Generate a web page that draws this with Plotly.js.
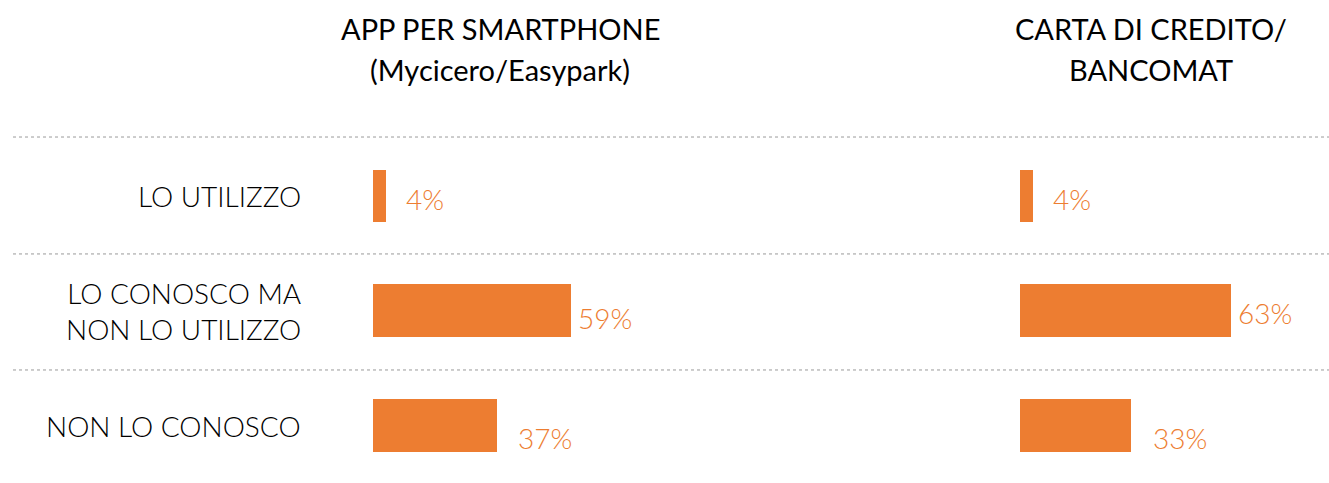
<!DOCTYPE html>
<html>
<head>
<meta charset="utf-8">
<script src="https://cdn.plot.ly/plotly-3.0.1.min.js"></script>
<style>html,body{margin:0;padding:0;background:#fff;}#chart{width:1329px;height:483px;}</style>
</head>
<body>
<div id="chart"></div>
<script>
const categories = ["LO UTILIZZO", "LO CONOSCO MA<br>NON LO UTILIZZO", "NON LO CONOSCO"];
const panelTitleLines = [["APP PER SMARTPHONE", "(Mycicero/Easypark)"], ["CARTA DI CREDITO/", "BANCOMAT"]];
const appValues = [4, 59, 37];
const cartaValues = [4, 63, 33];

const ORANGE = "#ED7D31";
const FONT = "Lato, 'Open Sans', sans-serif";
const W = 1329, H = 483;
const pos = categories.map((c, i) => i);

// label offsets (pixels) to mimic the original layout
const labelShift = [[18, 3], [5, 7], [19, 12]];
const labelShiftR = [[18, 3], [5, 2], [20, 12]];

function barTrace(vals, xa, ya) {
  return {
    type: "bar", orientation: "h", x: vals, y: pos,
    xaxis: xa, yaxis: ya, width: 0.46,
    marker: {color: ORANGE}, hoverinfo: "skip"
  };
}

const data = [barTrace(appValues, "x", "y"), barTrace(cartaValues, "x2", "y2")];

const annotations = [];
function addLabels(vals, xref, yref, shifts) {
  vals.forEach((v, i) => {
    annotations.push({
      x: v, y: i, xref: xref, yref: yref, text: v + "%", showarrow: false,
      xanchor: "left", yanchor: "middle", xshift: shifts[i][0], yshift: -shifts[i][1],
      font: {family: FONT, size: 28, color: ORANGE, weight: 300}
    });
  });
}
addLabels(appValues, "x", "y", labelShift);
addLabels(cartaValues, "x2", "y2", labelShiftR);

categories.forEach((c, i) => {
  annotations.push({
    x: 303 / W, y: i, xref: "paper", yref: "y", text: c, showarrow: false,
    xanchor: "right", yanchor: "middle", align: "right",
    font: {family: FONT, size: 28, color: "#000", weight: 300}
  });
});

const titleCenters = [500, 1151];
const titleLineY = [28, 70];
panelTitleLines.forEach((lines, p) => {
  lines.forEach((t, k) => {
    annotations.push({
      x: titleCenters[p] / W, y: 1 - titleLineY[k] / H, xref: "paper", yref: "paper",
      xanchor: "center", yanchor: "middle", text: t, showarrow: false,
      font: {family: FONT, size: 29, color: "#000", weight: 400}
    });
  });
});

const shapes = [-0.514, 0.505, 1.516].map(yv => ({
  type: "line", xref: "paper", yref: "y", x0: 13 / W, x1: 1, y0: yv, y1: yv,
  line: {color: "#9a9a9a", width: 1, dash: "dot"}
}));

const yRange = [2.501, -1.708];
const axX = {range: [0, 90], showgrid: false, zeroline: false, showticklabels: false, showline: false, fixedrange: true};
const axY = {range: yRange, showgrid: false, zeroline: false, showticklabels: false, showline: false, fixedrange: true, domain: [0, 1]};

const layout = {
  width: W, height: H,
  margin: {l: 0, r: 0, t: 0, b: 0},
  paper_bgcolor: "#fff", plot_bgcolor: "rgba(0,0,0,0)",
  showlegend: false, bargap: 0,
  xaxis: Object.assign({}, axX, {domain: [373 / W, (373 + 301.5) / W], anchor: "y"}),
  yaxis: Object.assign({}, axY, {anchor: "x"}),
  xaxis2: Object.assign({}, axX, {domain: [1020 / W, (1020 + 301.5) / W], anchor: "y2"}),
  yaxis2: Object.assign({}, axY, {anchor: "x2"}),
  annotations: annotations,
  shapes: shapes,
  font: {family: FONT}
};

Plotly.newPlot("chart", data, layout, {displayModeBar: false, staticPlot: true});
</script>
</body>
</html>
